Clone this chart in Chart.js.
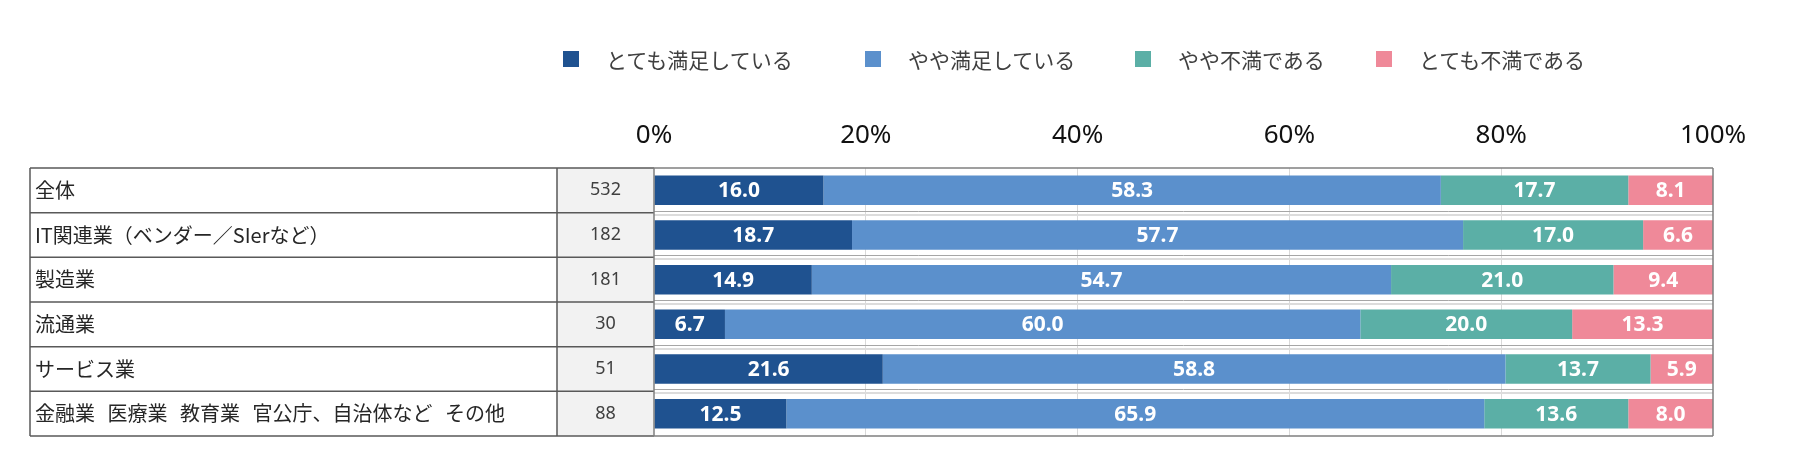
<!DOCTYPE html>
<html><head><meta charset="utf-8">
<script src="https://cdn.jsdelivr.net/npm/chart.js@4.4.1/dist/chart.umd.min.js"></script>
<style>
html,body{margin:0;padding:0;background:#fff;}
#wrap{position:relative;width:1800px;height:472px;overflow:hidden;}
#legend{position:absolute;left:0;top:0;width:1800px;height:100px;font-family:'Noto Sans CJK JP','Noto Sans',sans-serif;font-size:21px;color:#404040;}
.li{position:absolute;top:45px;height:28px;display:flex;align-items:center;white-space:nowrap;}
.sw{width:16px;height:16px;margin-right:27px;flex:none;}
canvas{position:absolute;left:0;top:0;}
</style></head><body>
<div id="wrap"><canvas id="c" width="1800" height="472"></canvas><div id="legend"></div></div>
<script>
// ---- data ----
const categories = ['全体','IT関連業（ベンダー／SIerなど）','製造業','流通業','サービス業','金融業 医療業 教育業 官公庁、自治体など その他'];
const nValues = [532, 182, 181, 30, 51, 88];
const seriesNames = ['とても満足している','やや満足している','やや不満である','とても不満である'];
const verySatisfied = [16.0, 18.7, 14.9, 6.7, 21.6, 12.5];
const somewhatSatisfied = [58.3, 57.7, 54.7, 60.0, 58.8, 65.9];
const somewhatDissatisfied = [17.7, 17.0, 21.0, 20.0, 13.7, 13.6];
const veryDissatisfied = [8.1, 6.6, 9.4, 13.3, 5.9, 8.0];
const tickStep = 20;
const tickSuffix = '%';

// ---- styles / layout ----
const seriesColors = ['#1f5290','#5b90cc','#5bafa6','#ef8999'];
const seriesValues = [verySatisfied, somewhatSatisfied, somewhatDissatisfied, veryDissatisfied];
const legendX = [563, 865, 1135, 1376];
const TABLE_LEFT = 30, COL_N_LEFT = 557;

// legend (HTML)
const lg = document.getElementById('legend');
seriesNames.forEach((name, i) => {
  const d = document.createElement('div');
  d.className = 'li';
  d.style.left = legendX[i] + 'px';
  const s = document.createElement('span');
  s.className = 'sw';
  s.style.background = seriesColors[i];
  const t = document.createElement('span');
  t.textContent = name;
  d.appendChild(s); d.appendChild(t);
  lg.appendChild(d);
});

function rowBounds(chart) {
  const a = chart.chartArea, y = chart.scales.y, n = categories.length;
  const b = [a.top];
  for (let i = 1; i < n; i++) b.push((y.getPixelForValue(i - 1) + y.getPixelForValue(i)) / 2);
  b.push(a.bottom);
  return b;
}

const tablePlugin = {
  id: 'tablePlugin',
  beforeDatasetsDraw(chart) {
    const { ctx, chartArea: a } = chart;
    const b = rowBounds(chart);
    ctx.save();
    ctx.fillStyle = '#f2f2f2';
    ctx.fillRect(COL_N_LEFT, a.top, a.left - COL_N_LEFT, a.bottom - a.top);
    // light row separators in plot area
    for (let i = 1; i < b.length - 1; i++) {
      ctx.strokeStyle = '#a6a6a6'; ctx.lineWidth = 1;
      ctx.beginPath(); ctx.moveTo(a.left, Math.round(b[i] - 2) + 0.5); ctx.lineTo(a.right, Math.round(b[i] - 2) + 0.5); ctx.stroke();
      ctx.strokeStyle = '#dcdcdc'; ctx.lineWidth = 2;
      ctx.beginPath(); ctx.moveTo(a.left, Math.round(b[i] + 2)); ctx.lineTo(a.right, Math.round(b[i] + 2)); ctx.stroke();
    }
    ctx.restore();
  },
  afterDatasetsDraw(chart) {
    const { ctx, chartArea: a, scales: { y } } = chart;
    const b = rowBounds(chart);
    ctx.save();
    // data labels
    ctx.font = "bold 21px 'Noto Sans', sans-serif";
    ctx.fillStyle = '#ffffff';
    ctx.textAlign = 'center';
    ctx.textBaseline = 'middle';
    seriesValues.forEach((vals, i) => {
      const meta = chart.getDatasetMeta(i);
      meta.data.forEach((bar, j) => {
        const p = bar.getProps(['x', 'base', 'y'], true);
        const right = Math.min(p.x, a.right);
        ctx.fillText(vals[j].toFixed(1), (right + p.base) / 2, p.y + 1);
      });
    });
    // table text
    categories.forEach((c, i) => {
      const cy = y.getPixelForValue(i);
      ctx.font = "20px 'Noto Sans CJK JP', sans-serif";
      ctx.fillStyle = '#262626';
      ctx.textAlign = 'left';
      if ('wordSpacing' in ctx) ctx.wordSpacing = '8px';
      ctx.fillText(c, TABLE_LEFT + 5, cy);
      if ('wordSpacing' in ctx) ctx.wordSpacing = '0px';
      ctx.font = "18px 'Noto Sans', sans-serif";
      ctx.fillStyle = '#404040';
      ctx.textAlign = 'center';
      ctx.fillText(String(nValues[i]), (COL_N_LEFT + a.left) / 2, cy);
    });
    // table lines
    ctx.strokeStyle = '#595959'; ctx.lineWidth = 1.5;
    for (let i = 1; i < b.length - 1; i++) {
      ctx.beginPath(); ctx.moveTo(TABLE_LEFT, b[i]); ctx.lineTo(a.left, b[i]); ctx.stroke();
    }
    [TABLE_LEFT, COL_N_LEFT].forEach(x => {
      ctx.beginPath(); ctx.moveTo(x, a.top); ctx.lineTo(x, a.bottom); ctx.stroke();
    });
    ctx.beginPath(); ctx.moveTo(TABLE_LEFT, a.top); ctx.lineTo(a.left, a.top); ctx.stroke();
    ctx.beginPath(); ctx.moveTo(TABLE_LEFT, a.bottom); ctx.lineTo(a.left, a.bottom); ctx.stroke();
    ctx.strokeStyle = '#7f7f7f';
    ctx.beginPath(); ctx.moveTo(a.left, a.top); ctx.lineTo(a.right, a.top); ctx.stroke();
    ctx.beginPath(); ctx.moveTo(a.left, a.bottom); ctx.lineTo(a.right, a.bottom); ctx.stroke();
    ctx.beginPath(); ctx.moveTo(a.left, a.top); ctx.lineTo(a.left, a.bottom); ctx.stroke();
    ctx.beginPath(); ctx.moveTo(a.right, a.top); ctx.lineTo(a.right, a.bottom); ctx.stroke();
    ctx.restore();
  }
};

new Chart(document.getElementById('c'), {
  type: 'bar',
  data: {
    labels: categories,
    datasets: seriesNames.map((name, i) => ({
      label: name,
      data: seriesValues[i],
      backgroundColor: seriesColors[i],
      borderWidth: 0,
      barPercentage: 0.66,
      categoryPercentage: 1.0
    }))
  },
  options: {
    indexAxis: 'y',
    responsive: false,
    devicePixelRatio: 1,
    animation: false,
    layout: { padding: { left: 654, right: 87, top: 108, bottom: 36 } },
    plugins: { legend: { display: false }, tooltip: { enabled: false } },
    scales: {
      x: {
        stacked: true, min: 0, max: 100, position: 'top',
        afterFit(s) { s.height = 60; },
        ticks: {
          stepSize: tickStep,
          padding: 17,
          color: '#111111',
          font: { family: "'Noto Sans', sans-serif", size: 26 },
          callback: v => v + tickSuffix
        },
        grid: {
          drawTicks: false,
          lineWidth: 1,
          color: c => (c.tick && (c.tick.value === 0 || c.tick.value === 100)) ? 'rgba(0,0,0,0)' : '#d9d9d9'
        },
        border: { display: false }
      },
      y: { stacked: true, display: false }
    }
  },
  plugins: [tablePlugin]
});
</script>
</body></html>
